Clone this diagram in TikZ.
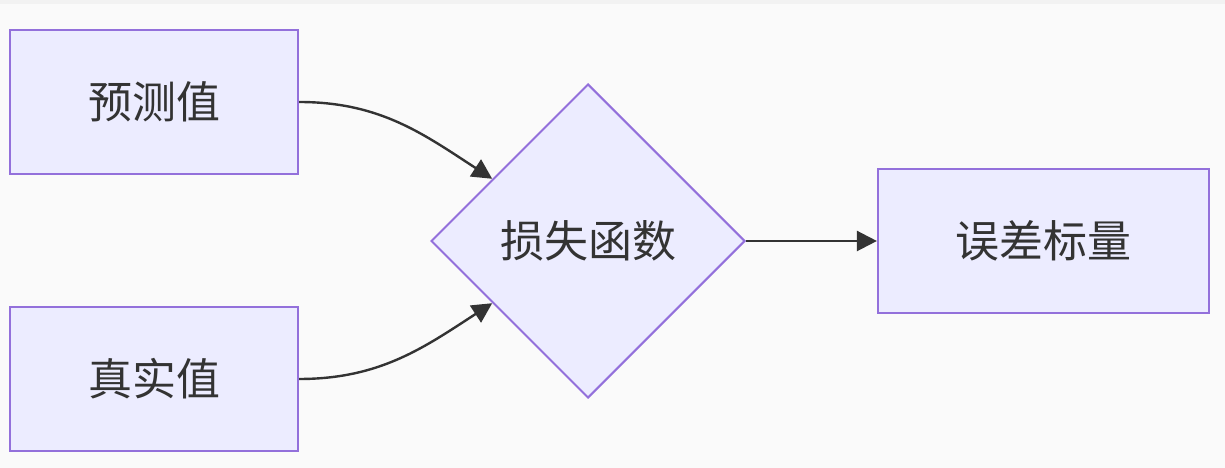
\documentclass[tikz,border=0pt]{standalone}
\usepackage{fontspec}
\setmainfont{Noto Sans CJK SC}
\usetikzlibrary{shapes.geometric,arrows.meta}
\definecolor{bg}{HTML}{FAFAFA}
\definecolor{topbar}{HTML}{F2F2F2}
\definecolor{nodefill}{HTML}{ECECFF}
\definecolor{nodeline}{HTML}{9370DB}
\definecolor{ink}{HTML}{333333}
\tikzset{
  box/.style={draw=nodeline, fill=nodefill, line width=2.2pt, rectangle, minimum height=144pt, inner sep=0pt, text=ink, font=\fontsize{44pt}{52pt}\selectfont},
  dia/.style={draw=nodeline, fill=nodefill, line width=2pt, diamond, minimum size=314pt, inner sep=0pt, text=ink, font=\fontsize{44pt}{52pt}\selectfont},
  link/.style={draw=ink, line width=2.4pt, -{Triangle[length=20pt,width=20pt]}}
}
\begin{document}
\begin{tikzpicture}[x=1pt,y=1pt]
\fill[bg] (0,0) rectangle (1225,468);
\fill[topbar] (0,464) rectangle (1225,468);
\useasboundingbox (0,0) rectangle (1225,468);
\node[box, minimum width=288pt] (pred) at (154,366) {预测值};
\node[box, minimum width=288pt] (truth) at (154,89) {真实值};
\node[dia] (loss) at (588,227) {损失函数};
\node[box, minimum width=331pt] (err) at (1043.5,227) {误差标量};
\draw[link] (pred.east) to[out=0,in=147] (loss);
\draw[link] (truth.east) to[out=0,in=213] (loss);
\draw[link] (loss.east) -- (err.west);
\end{tikzpicture}
\end{document}
